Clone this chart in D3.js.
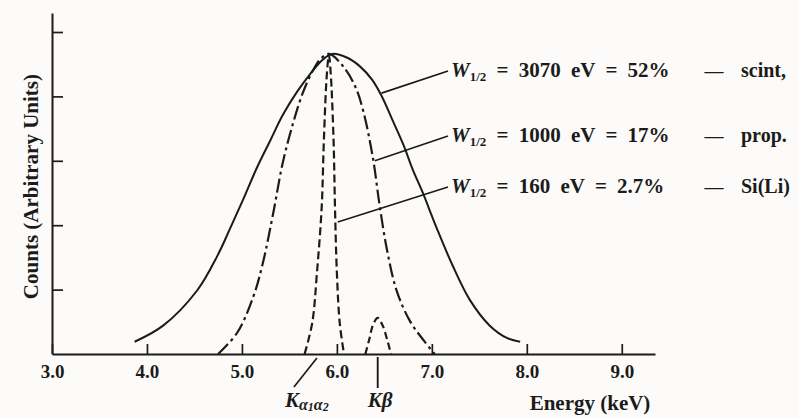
<!DOCTYPE html>
<html>
<head>
<meta charset="utf-8">
<script src="https://cdn.jsdelivr.net/npm/d3@7"></script>
<style>
	body { margin: 0; background: #fcfbf9; }
	svg text { font-family: "Liberation Serif", "Times New Roman", serif; font-weight: bold; fill: #1b1b1b; }
</style>
</head>
<body>
<div id="chart"></div>
<script>
// Energy (keV) and counts (arbitrary units)
const scintEnergy = [3.87, 4.17, 4.53, 4.74, 4.87, 5.01, 5.16, 5.30, 5.43, 5.58, 5.72, 5.85, 5.95, 6.11, 6.24, 6.37, 6.47, 6.58, 6.70, 6.80, 6.90, 7.05, 7.22, 7.40, 7.61, 7.79, 7.93]
const scintCounts = [0.19, 0.44, 0.99, 1.52, 1.93, 2.39, 2.90, 3.32, 3.71, 4.07, 4.35, 4.57, 4.66, 4.60, 4.47, 4.26, 4.01, 3.65, 3.25, 2.86, 2.52, 1.96, 1.37, 0.84, 0.44, 0.25, 0.19]

const propEnergy = [4.75, 4.95, 5.12, 5.22, 5.33, 5.43, 5.54, 5.64, 5.75, 5.84, 5.92, 6.08, 6.20, 6.28, 6.38, 6.45, 6.53, 6.63, 6.77, 6.92, 7.03]
const propCounts = [0, 0.33, 0.89, 1.41, 2.19, 2.97, 3.59, 4.05, 4.41, 4.60, 4.66, 4.44, 4.13, 3.76, 3.04, 2.31, 1.60, 0.98, 0.51, 0.20, 0]

const siliEnergy = [5.66, 5.74, 5.79, 5.84, 5.863, 5.895, 5.916, 5.935, 5.965, 5.98, 6.00, 6.03, 6.075]
const siliCounts = [0, 0.48, 1.26, 2.28, 3.32, 4.36, 4.64, 4.36, 3.32, 2.28, 1.26, 0.48, 0]

const kbetaEnergy = [6.30, 6.34, 6.38, 6.43, 6.48, 6.53, 6.57]
const kbetaCounts = [0, 0.22, 0.45, 0.56, 0.45, 0.22, 0]

const xTicks = [3, 4, 5, 6, 7, 8, 9]
const yTicks = [1, 2, 3, 4, 5]

// legend rows: resolution, percent, detector, point on curve the leader goes to
const fwhmEv = [3070, 1000, 160]
const fwhmPct = ["52%", "17%", "2.7%"]
const detectors = ["scint,", "prop.", "Si(Li)"]
const leaderEnergy = [6.47, 6.40, 6.01]
const leaderCounts = [4.05, 3.0, 2.05]

// line markers under the axis
const lineNames = ["Kα", "Kβ"]
const lineEnergy = [5.79, 6.43]

const width = 799
const height = 418
const ink = "#1b1b1b"

const svg = d3.select("#chart")
	.append("svg")
	.attr("width", width)
	.attr("height", height)

const x = d3.scaleLinear().domain([3, 9.35]).range([52, 655])
const y = d3.scaleLinear().domain([0, 5.295]).range([354, 13])

// axes, ticks point inward
const xAxis = d3.axisBottom(x)
	.tickValues(xTicks)
	.tickFormat(d3.format(".1f"))
	.tickSize(-10)
	.tickSizeOuter(0)
	.tickPadding(11)

const gx = svg.append("g")
	.attr("transform", `translate(0,${y(0)})`)
	.call(xAxis)
gx.select(".domain").attr("stroke", ink).attr("stroke-width", 2)
gx.selectAll(".tick line").attr("stroke", ink).attr("stroke-width", 1.7)
gx.selectAll(".tick text")
	.attr("font-size", 19)
	.attr("fill", ink)
	.style("font-family", "Liberation Serif")

const yAxis = d3.axisRight(y)
	.tickValues(yTicks)
	.tickFormat("")
	.tickSize(11)
	.tickSizeOuter(0)

const gy = svg.append("g")
	.attr("transform", `translate(${x(3)},0)`)
	.call(yAxis)
gy.select(".domain").attr("stroke", ink).attr("stroke-width", 2)
gy.selectAll(".tick line").attr("stroke", ink).attr("stroke-width", 1.7)

svg.append("text")
	.attr("transform", `translate(31,${y(2.6)}) rotate(-90)`)
	.attr("text-anchor", "middle")
	.attr("dominant-baseline", "central")
	.attr("font-size", 21)
	.text("Counts (Arbitrary Units)")

svg.append("text")
	.attr("x", 590)
	.attr("y", 410)
	.attr("text-anchor", "middle")
	.attr("font-size", 21)
	.text("Energy (keV)")

// spectra
const line = d3.line()
	.x((d) => x(d[0]))
	.y((d) => y(d[1]))
	.curve(d3.curveCatmullRom.alpha(0.5))

const series = [
	{ e: scintEnergy, c: scintCounts, dash: null, w: 2 },
	{ e: propEnergy, c: propCounts, dash: "14,4,3,4", w: 2.2 },
	{ e: siliEnergy, c: siliCounts, dash: "8,4", w: 2.2 },
	{ e: kbetaEnergy, c: kbetaCounts, dash: "7,4", w: 2.2 },
]

svg.selectAll(".spectrum")
	.data(series)
	.enter()
	.append("path")
	.attr("class", "spectrum")
	.attr("d", (s) => line(s.e.map((e, i) => [e, s.c[i]])))
	.attr("fill", "none")
	.attr("stroke", ink)
	.attr("stroke-width", (s) => s.w)
	.attr("stroke-dasharray", (s) => s.dash)

// legend with leaders
const rowY = [77, 142, 193]
const rows = svg.selectAll(".row")
	.data(fwhmEv)
	.enter()
	.append("g")
	.attr("class", "row")

rows.append("line")
	.attr("x1", (d, i) => x(leaderEnergy[i]))
	.attr("y1", (d, i) => y(leaderCounts[i]))
	.attr("x2", 448)
	.attr("y2", (d, i) => rowY[i] - 6)
	.attr("stroke", ink)
	.attr("stroke-width", 1.7)

const main = rows.append("text")
	.attr("x", 451)
	.attr("y", (d, i) => rowY[i])
	.attr("font-size", 21)
	.attr("word-spacing", 5)
main.append("tspan").attr("font-style", "italic").text("W")
main.append("tspan").attr("font-size", 13).attr("dy", 4).text("1/2")
main.append("tspan").attr("dy", -4).text((d, i) => ` = ${d} eV = ${fwhmPct[i]}`)

rows.append("text")
	.attr("x", 714)
	.attr("y", (d, i) => rowY[i])
	.attr("text-anchor", "middle")
	.attr("font-size", 19)
	.text("—")

rows.append("text")
	.attr("x", 741)
	.attr("y", (d, i) => rowY[i])
	.attr("font-size", 20)
	.text((d, i) => detectors[i])

// K line markers
svg.append("line")
	.attr("x1", x(lineEnergy[0]))
	.attr("y1", y(0) + 4)
	.attr("x2", x(lineEnergy[0]) - 23)
	.attr("y2", y(0) + 33)
	.attr("stroke", ink)
	.attr("stroke-width", 1.7)

svg.append("line")
	.attr("x1", x(lineEnergy[1]))
	.attr("y1", y(0) + 3)
	.attr("x2", x(lineEnergy[1]))
	.attr("y2", y(0) + 34)
	.attr("stroke", ink)
	.attr("stroke-width", 1.9)

const kx = [x(lineEnergy[0]) - 32, x(lineEnergy[1]) - 10]
lineNames.forEach((name, i) => {
	const t = svg.append("text")
		.attr("x", kx[i])
		.attr("y", 407)
		.attr("font-size", 21)
		.attr("font-style", "italic")
	t.append("tspan").text(name[0])
	if (i === 0) {
		// alpha doublet as a subscript
		t.append("tspan").attr("font-size", 16).attr("dy", 3).text("α")
		t.append("tspan").attr("font-size", 12).attr("dy", 1).text("1")
		t.append("tspan").attr("font-size", 16).attr("dy", -1).text("α")
		t.append("tspan").attr("font-size", 12).attr("dy", 1).text("2")
	} else {
		t.append("tspan").text(name[1])
	}
})
</script>
</body>
</html>
